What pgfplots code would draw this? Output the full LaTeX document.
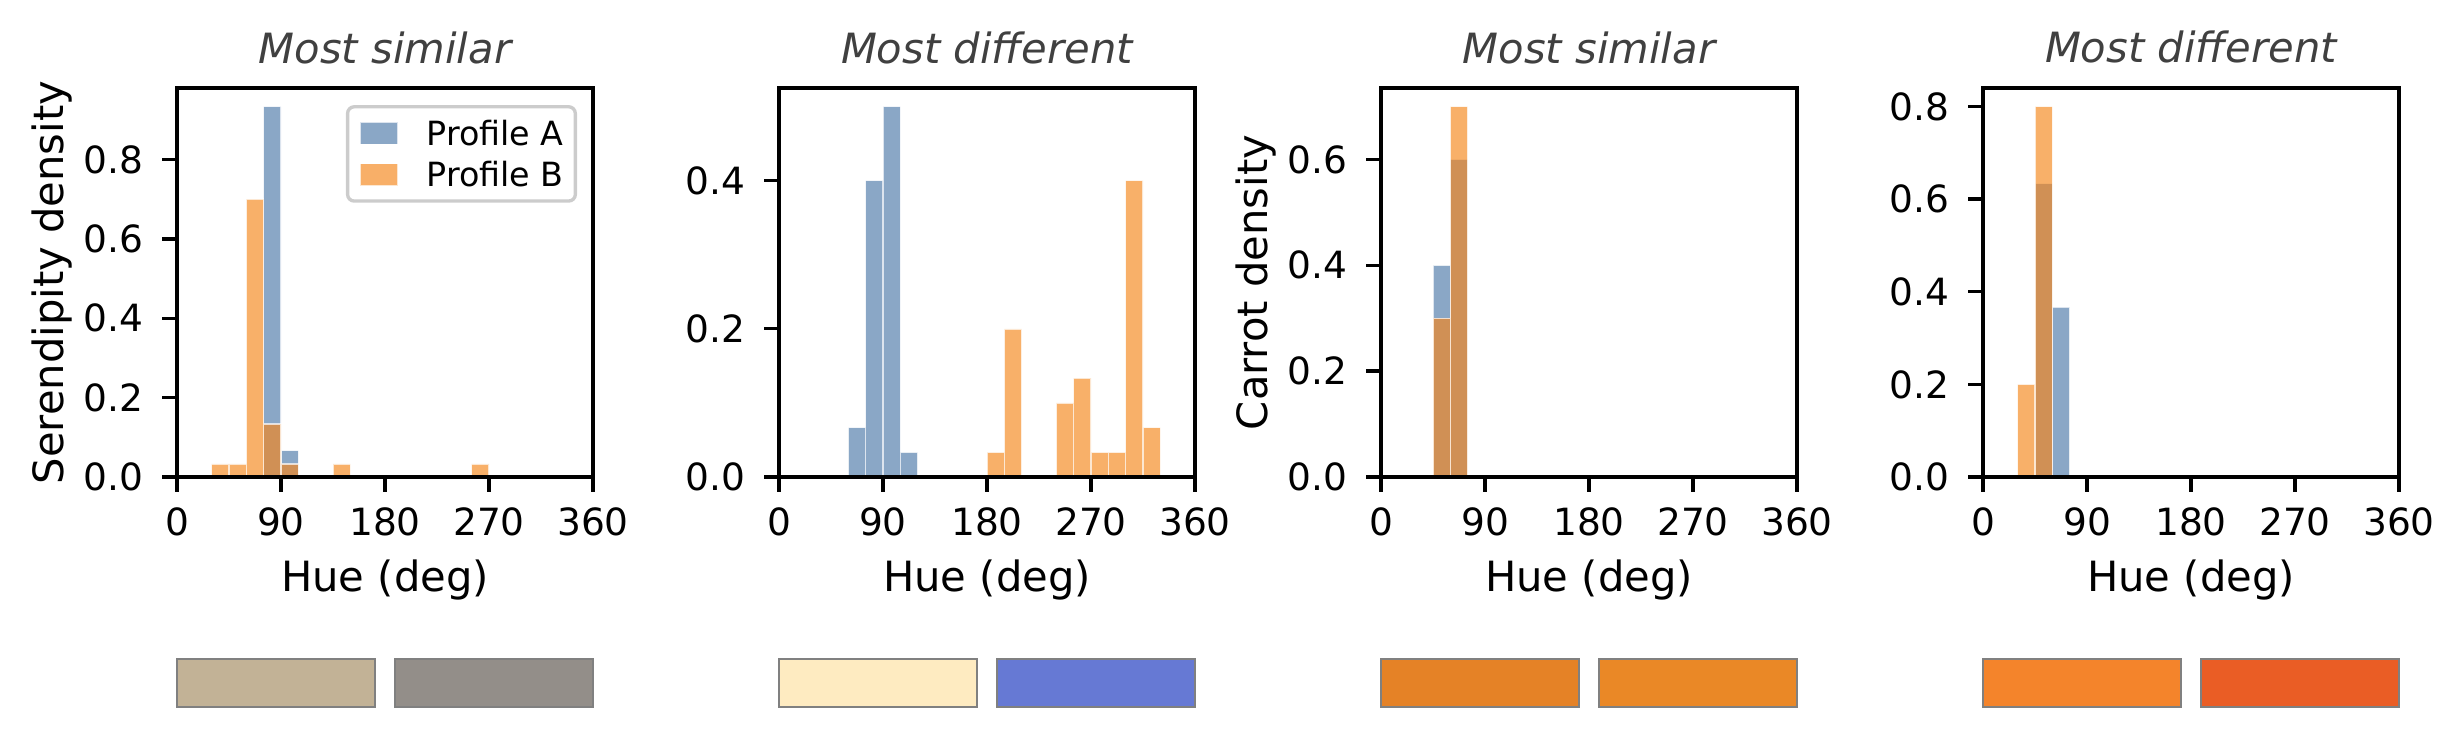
\documentclass[border=0pt]{standalone}
\usepackage{fontspec}
\setmainfont{DejaVu Sans}
\usepackage{pgfplots}
\pgfplotsset{compat=1.18}

\definecolor{profA}{HTML}{4C78A8}
\definecolor{profB}{HTML}{F58518}
\definecolor{titlegray}{HTML}{404040}
\definecolor{swedge}{HTML}{808080}
% swatch colours of the compared palettes
\definecolor{swAa}{HTML}{C2B296}
\definecolor{swAb}{HTML}{938E89}
\definecolor{swBa}{HTML}{FEEBC1}
\definecolor{swBb}{HTML}{6679D4}
\definecolor{swCa}{HTML}{E58226}
\definecolor{swCb}{HTML}{EA8826}
\definecolor{swDa}{HTML}{F4842B}
\definecolor{swDb}{HTML}{EA5D25}

\pgfplotsset{
  histpanel/.style={
    anchor=south west, scale only axis,
    width=99.84pt, height=93.36pt,
    xmin=0, xmax=360, ymin=0,
    xtick={0,90,180,270,360},
    axis on top,
    axis line style={line width=0.8pt},
    every tick/.style={black, line width=0.8pt},
    tick align=outside, xtick pos=bottom, ytick pos=left,
    major tick length=3.5pt,
    tick label style={font=\fontsize{9}{10.8}\selectfont},
    /pgf/number format/assume math mode=true,
    yticklabel style={anchor=east, inner sep=0pt, xshift=-4.4pt,
      /pgf/number format/.cd, fixed, fixed zerofill, precision=1},
    xticklabel style={anchor=north, inner sep=0pt, yshift=-3.7pt},
    every axis title/.style={at={(axis description cs:0.5,1)}, anchor=base,
      yshift=6pt, font=\fontsize{10}{12}\selectfont\itshape, text=titlegray},
    every axis x label/.style={at={(axis description cs:0.5,0)}, anchor=base,
      yshift=-27.36pt, font=\fontsize{10}{12}\selectfont},
    every axis y label/.style={at={(axis description cs:0,0.5)},
      xshift=-27.36pt, rotate=90, anchor=base, font=\fontsize{10}{12}\selectfont},
    xlabel={Hue (deg)},
    legend cell align=left,
    legend image code/.code={
      \draw[##1, sharp corners, line width=0.35pt] (0pt,-2.7pt) rectangle (9.1pt,2.7pt);},
    legend style={at={(axis description cs:1,1)}, anchor=north east,
      xshift=-3.84pt, yshift=-4.1pt,
      draw=black!20, line width=0.8pt, rounded corners=1.6pt, fill=white,
      font=\fontsize{8}{9.6}\selectfont,
      inner xsep=2.8pt, inner ysep=3.4pt, row sep=4.17pt,
      nodes={inner sep=0pt, text height=5.83pt, text depth=0pt},
      /tikz/every odd column/.append style={column sep=6.7pt}},
  },
  barA/.style={ybar, bar width=15, bar shift=0pt,
    fill=profA, fill opacity=0.65, draw=white, draw opacity=0.7, line width=0.35pt},
  barB/.style={ybar, bar width=15, bar shift=0pt,
    fill=profB, fill opacity=0.65, draw=white, draw opacity=0.7, line width=0.35pt},
}

% histogram densities per 15-degree hue bin (bin centres)
\pgfplotstableread{
x y
82.5 0.9333
97.5 0.0667
}\serA
\pgfplotstableread{
x y
37.5 0.0333
52.5 0.0333
67.5 0.7000
82.5 0.1333
97.5 0.0333
142.5 0.0333
262.5 0.0333
}\serB
\pgfplotstableread{
x y
67.5 0.0667
82.5 0.4000
97.5 0.5000
112.5 0.0333
}\difA
\pgfplotstableread{
x y
187.5 0.0333
202.5 0.2000
247.5 0.1000
262.5 0.1333
277.5 0.0333
292.5 0.0333
307.5 0.4000
322.5 0.0667
}\difB
\pgfplotstableread{
x y
52.5 0.4
67.5 0.6
}\carA
\pgfplotstableread{
x y
52.5 0.3
67.5 0.7
}\carB
\pgfplotstableread{
x y
52.5 0.6333
67.5 0.3667
}\cdfA
\pgfplotstableread{
x y
37.5 0.2
52.5 0.8
}\cdfB

\begin{document}
\begin{tikzpicture}
\path[use as bounding box] (0pt,0pt) rectangle (591.12pt,177.12pt);

% Serendipity, most similar
\begin{axis}[histpanel, at={(42.48pt,62.64pt)}, ymax=0.98,
  ytick={0,0.2,0.4,0.6,0.8}, title={Most similar}, ylabel={Serendipity density}]
  \addplot[barA] table {\serA};
  \addlegendentry{Profile A}
  \addplot[barB] table {\serB};
  \addlegendentry{Profile B}
\end{axis}

% Serendipity, most different
\begin{axis}[histpanel, at={(186.96pt,62.64pt)}, ymax=0.525,
  ytick={0,0.2,0.4}, title={Most different}]
  \addplot[barA] table {\difA};
  \addplot[barB] table {\difB};
\end{axis}

% Carrot, most similar
\begin{axis}[histpanel, at={(331.44pt,62.64pt)}, ymax=0.735,
  ytick={0,0.2,0.4,0.6}, title={Most similar}, ylabel={Carrot density}]
  \addplot[barA] table {\carA};
  \addplot[barB] table {\carB};
\end{axis}

% Carrot, most different
\begin{axis}[histpanel, at={(475.92pt,62.64pt)}, ymax=0.84,
  ytick={0,0.2,0.4,0.6,0.8}, title={Most different}]
  \addplot[barA] table {\cdfA};
  \addplot[barB] table {\cdfB};
\end{axis}

% palette swatches under each panel
\foreach \lx/\ca/\cb in {42.48/swAa/swAb, 186.96/swBa/swBb, 331.44/swCa/swCb, 475.92/swDa/swDb}{
  \filldraw[fill=\ca, draw=swedge, line width=0.3pt] (\lx pt,7.44pt) rectangle ++(47.52pt,11.52pt);
  \filldraw[fill=\cb, draw=swedge, line width=0.3pt] (\lx pt+52.32pt,7.44pt) rectangle ++(47.52pt,11.52pt);
}
\end{tikzpicture}
\end{document}
